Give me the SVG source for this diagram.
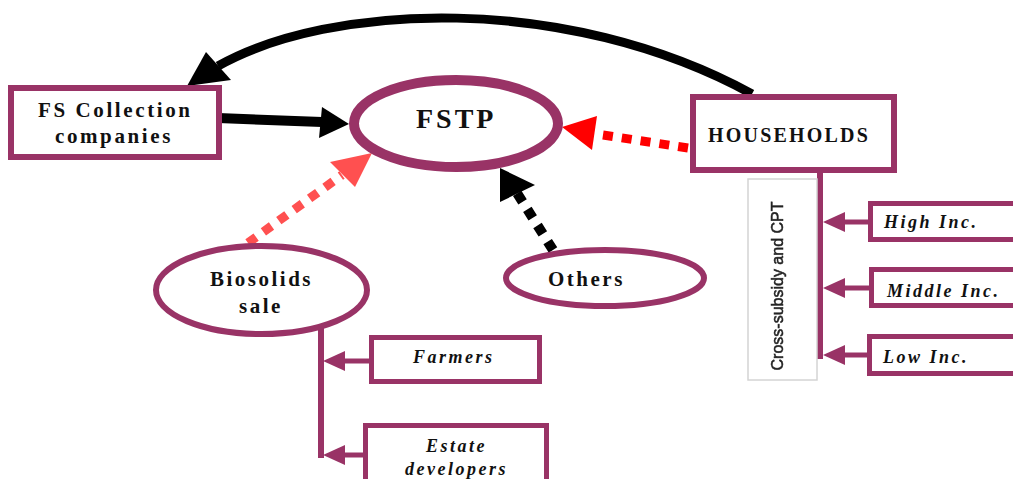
<svg xmlns="http://www.w3.org/2000/svg" width="1013" height="479" viewBox="0 0 1013 479">
  <style>
    .node { fill: #ffffff; stroke: #993366; }
    .title { font-family: "Liberation Serif", "Times New Roman", serif; font-weight: bold; fill: #111111; }
    .lbl { font-family: "Liberation Serif", "Times New Roman", serif; font-weight: bold; font-style: italic; font-size: 18px; letter-spacing: 2.5px; fill: #111111; }
    .solid { fill: none; stroke: #000000; }
    .dots { fill: none; stroke-dasharray: 10 9; }
    .branch { fill: none; stroke: #993366; stroke-width: 5; }
    .branch-v { fill: none; stroke: #993366; stroke-width: 6; }
    .head-purple { fill: #993366; }
  </style>
  <defs>
    <filter id="soft" x="-10%" y="-10%" width="120%" height="120%">
      <feGaussianBlur stdDeviation="0.35"/>
    </filter>
  </defs>
  <rect width="1013" height="479" fill="#ffffff"/>

  <!-- connectors -->
  <g id="connectors">
    <!-- households back to collection companies -->
    <path class="solid" d="M752,94 C565,-8 330,3 218,66" stroke-width="9"/>
    <polygon points="187,86 206,52 231,80" fill="#000000"/>
    <!-- collection companies to FSTP -->
    <line class="solid" x1="218" y1="118" x2="322" y2="122" stroke-width="10"/>
    <polygon points="349,124 322,107 319,138" fill="#000000"/>
    <!-- households to FSTP -->
    <line class="dots" x1="688" y1="148" x2="596" y2="134" stroke="#ff0000" stroke-width="9"/>
    <polygon points="562,127 597,116 592,150" fill="#ff0000"/>
    <!-- biosolids sale to FSTP -->
    <line class="dots" x1="248" y1="243" x2="342" y2="175" stroke="#ff5050" stroke-width="9"/>
    <polygon points="372,153 330,162 355,187" fill="#ff5050"/>
    <!-- others to FSTP -->
    <line class="dots" x1="553" y1="250" x2="517" y2="193" stroke="#000000" stroke-width="10"/>
    <polygon points="500,168 500,202 535,185" fill="#000000"/>

    <!-- biosolids branch -->
    <line class="branch-v" x1="321" y1="326" x2="321" y2="458"/>
    <line class="branch" x1="345" y1="361" x2="370" y2="361"/>
    <polygon class="head-purple" points="323,361 345,351 345,371"/>
    <line class="branch" x1="345" y1="455" x2="364" y2="455"/>
    <polygon class="head-purple" points="323,455 345,445 345,465"/>

    <!-- household income branch -->
    <line class="branch-v" x1="820" y1="173" x2="820" y2="359"/>
    <line class="branch" x1="843" y1="222" x2="869" y2="222"/>
    <polygon class="head-purple" points="823,222 845,212 845,232"/>
    <line class="branch" x1="843" y1="288" x2="870" y2="288"/>
    <polygon class="head-purple" points="823,288 845,278 845,298"/>
    <line class="branch" x1="843" y1="355" x2="868" y2="355"/>
    <polygon class="head-purple" points="823,355 845,345 845,365"/>
  </g>

  <g id="fs-collection">
    <rect class="node" x="11" y="88" width="208" height="69" stroke-width="6"/>
    <text class="title" font-size="21" letter-spacing="2.6" x="38" y="117">FS Collection</text>
    <text class="title" font-size="21" letter-spacing="2.6" x="55" y="143">companies</text>
  </g>

  <g id="fstp">
    <ellipse class="node" cx="456" cy="123.5" rx="102" ry="43.5" stroke-width="10"/>
    <text class="title" font-size="28" letter-spacing="3" x="416" y="128">FSTP</text>
  </g>

  <g id="households">
    <rect class="node" x="693" y="97" width="201" height="73" stroke-width="6"/>
    <text class="title" font-size="20" letter-spacing="2.2" x="708" y="142">HOUSEHOLDS</text>
  </g>

  <g id="biosolids">
    <ellipse class="node" cx="261.5" cy="290" rx="105.5" ry="44" stroke-width="6"/>
    <text class="title" font-size="21" letter-spacing="2.5" x="210" y="286">Biosolids</text>
    <text class="title" font-size="21" letter-spacing="2.5" x="239" y="313">sale</text>
  </g>

  <g id="others">
    <ellipse class="node" cx="605" cy="278" rx="99" ry="28" stroke-width="6"/>
    <text class="title" font-size="21" letter-spacing="2.5" x="548" y="286">Others</text>
  </g>

  <g id="farmers">
    <rect class="node" x="371.5" y="337.5" width="168" height="44" stroke-width="5"/>
    <text class="lbl" x="413" y="363">Farmers</text>
  </g>

  <g id="estate-developers">
    <rect class="node" x="365.5" y="425.5" width="181" height="80" stroke-width="5"/>
    <text class="lbl" x="426" y="452">Estate</text>
    <text class="lbl" x="405" y="475">developers</text>
  </g>

  <g id="cross-subsidy">
    <rect x="748" y="179" width="69" height="201" fill="#ffffff" stroke="#d4d4d4" stroke-width="1.5"/>
    <text filter="url(#soft)" transform="translate(783,286) rotate(-90)" text-anchor="middle" font-family="'Liberation Sans', Arial, sans-serif" font-size="16" fill="#222222" stroke="#222222" stroke-width="0.5">Cross-subsidy and CPT</text>
  </g>

  <g id="high-inc">
    <rect class="node" x="870.5" y="203.5" width="200" height="36" stroke-width="5"/>
    <text class="lbl" x="884" y="228">High Inc.</text>
  </g>

  <g id="middle-inc">
    <rect class="node" x="871.5" y="269.5" width="200" height="36" stroke-width="5"/>
    <text class="lbl" x="887" y="297">Middle Inc.</text>
  </g>

  <g id="low-inc">
    <rect class="node" x="869.5" y="336.5" width="200" height="37" stroke-width="5"/>
    <text class="lbl" x="883" y="363">Low Inc.</text>
  </g>
</svg>
